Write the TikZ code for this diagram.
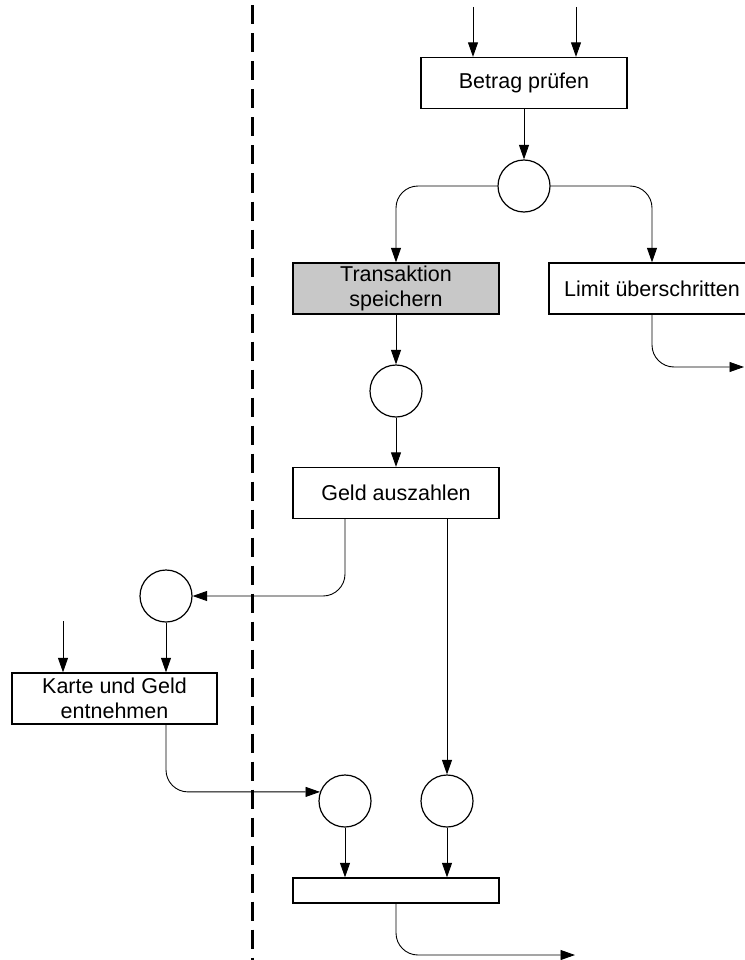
\documentclass[tikz,border=0pt]{standalone}
\usepackage{fontspec}
\setmainfont{Liberation Sans}
\usetikzlibrary{arrows.meta}
\definecolor{boxgray}{RGB}{200,200,200}
\begin{document}
\begin{tikzpicture}[x=1pt,y=-1pt,
  font=\fontsize{21.5}{25}\selectfont,
  trans/.style={draw, line width=1.3pt, rectangle, minimum width=206pt, minimum height=51pt, inner sep=0pt, align=center},
  place/.style={draw, line width=1.2pt, circle, minimum size=52pt, inner sep=0pt},
  arr/.style={line width=0.9pt, -{Triangle[length=14.5pt,width=10pt]}},
  conn/.style={line width=0.9pt},
  lane/.style={line width=2.2pt, dash pattern=on 19pt off 9pt}]
\useasboundingbox (0,0) rectangle (744,960);

% swimlane separator
\coordinate (laneTop) at (252.5,5.5);
\coordinate (laneBot) at (252.5,962);
\draw[lane] (laneTop) -- (laneBot);

% nodes
\node[trans] (bp) at (524,83) {Betrag prüfen};
\node[place] (c1) at (524,186) {};
\node[trans, fill=boxgray] (ts) at (396,288.5) {Transaktion\\speichern};
\node[trans] (lim) at (652,288.5) {Limit überschritten};
\node[place] (c2) at (396,391) {};
\node[trans] (ga) at (396,493) {Geld auszahlen};
\node[place] (c3) at (166,596) {};
\node[trans, minimum width=205pt] (kg) at (114.5,698.5) {Karte und Geld\\entnehmen};
\node[place] (c4) at (345,801) {};
\node[place] (c5) at (447,801) {};
\node[trans, minimum height=25pt] (bb) at (396,890.5) {};

% free ends
\coordinate (in1) at (473,7);
\coordinate (in2) at (576,7);
\coordinate (in3) at (63,621);
\coordinate (out1) at (744,367);
\coordinate (out2) at (575,955);

% connectors
\draw[arr] (in1) -- (in1 |- bp.north);
\draw[arr] (in2) -- (in2 |- bp.north);
\draw[arr] (bp.south) -- (c1.north);
\draw[arr, rounded corners=22pt] (c1.west) -| (ts.north);
\draw[arr, rounded corners=22pt] (c1.east) -| (lim.north);
\draw[arr, rounded corners=22pt] (lim.south) |- (out1);
\draw[arr] (ts.south) -- (c2.north);
\draw[arr] (c2.south) -- (ga.north);
\draw[arr, rounded corners=22pt] ([xshift=-51pt]ga.south) |- (c3.east);
\draw[arr] ([xshift=51pt]ga.south) -- (c5.north);
\draw[arr] (in3) -- (in3 |- kg.north);
\draw[arr] (c3.south) -- (c3.south |- kg.north);
\draw[arr, rounded corners=22pt] (c3 |- kg.south) |- (c4.160);
\draw[arr] (c4.south) -- (c4.south |- bb.north);
\draw[arr] (c5.south) -- (c5.south |- bb.north);
\draw[arr, rounded corners=22pt] (bb.south) |- (out2);
\end{tikzpicture}
\end{document}
